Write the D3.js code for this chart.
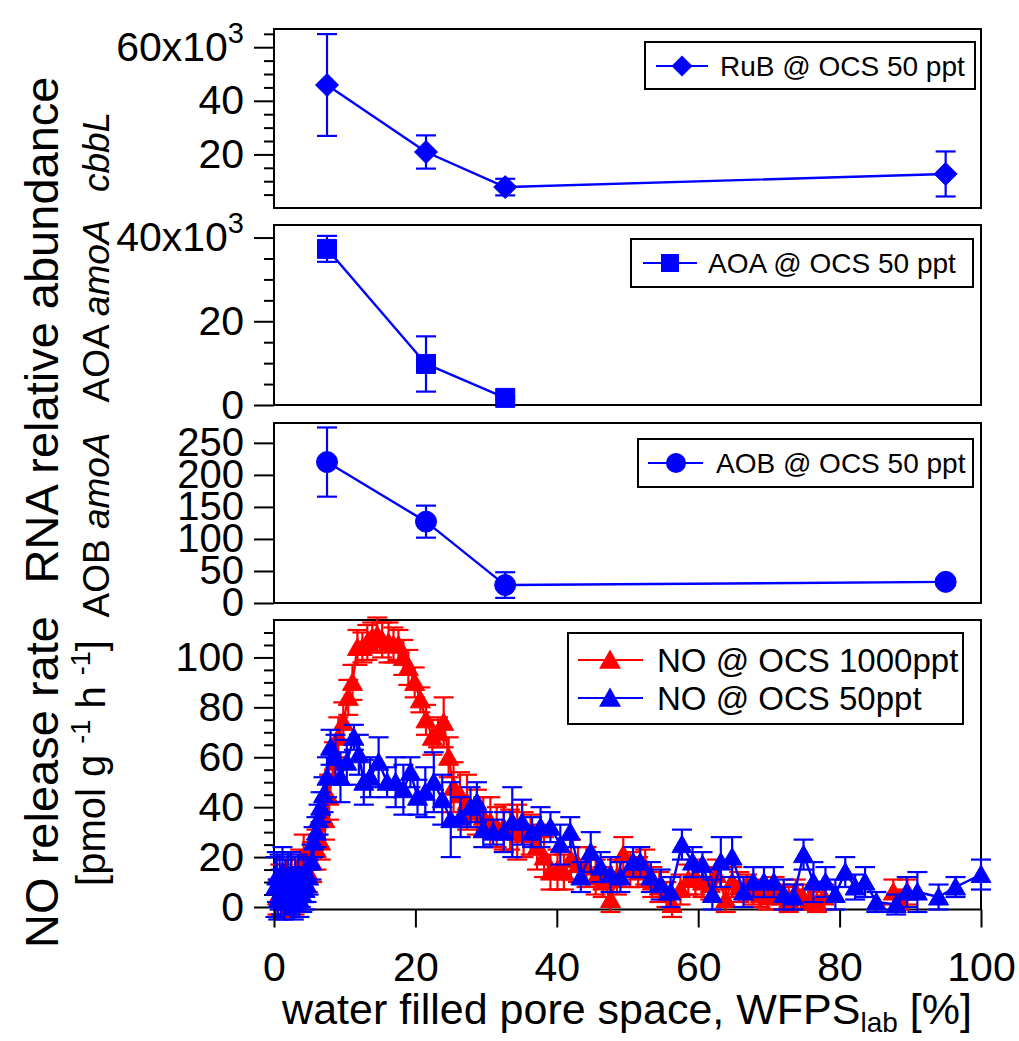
<!DOCTYPE html>
<html>
<head>
<meta charset="utf-8">
<script src="https://cdn.jsdelivr.net/npm/d3@7"></script>
<style>
  html, body { margin: 0; padding: 0; background: #fff; }
  svg { display: block; font-family: "Liberation Sans", Arial, Helvetica, sans-serif; }
</style>
</head>
<body>
<svg id="chart" width="1019" height="1041"></svg>
<script>
// ---------------- data ----------------
const xTickValues = [0, 20, 40, 60, 80, 100];

// cbbL (RuB) relative abundance, in units of 10^3
const rubX   = [7.5, 21.5, 32.7, 95.0];
const rubY   = [45.9, 20.9, 7.8, 12.7];
const rubErr = [19.0, 6.2, 3.1, 8.4];
const rubTicks = [20, 40, 60];

// AOA amoA relative abundance, in units of 10^3
const aoaX   = [7.5, 21.5, 32.7];
const aoaY   = [37.3, 9.8, 1.7];
const aoaErr = [3.1, 6.6, 0.4];
const aoaTicks = [0, 20, 40];

// AOB amoA relative abundance
const aobX   = [7.5, 21.5, 32.7, 95.0];
const aobY   = [220, 127, 28, 33];
const aobErr = [54, 25, 20, 5];
const aobTicks = [0, 50, 100, 150, 200, 250];

// NO release rate, OCS 1000 ppt
const noHighX = [0.5, 0.9, 1.3, 1.7, 2.1, 2.5, 2.9, 3.3, 3.7, 4.2, 4.8, 5.4, 6.0, 6.6, 7.2, 7.8, 8.5, 9.1, 9.8, 10.5,
  11.1, 11.8, 12.5, 13.2, 13.9, 14.6, 15.3, 16.2, 16.9, 17.6, 18.3, 19.0, 19.9, 20.7, 21.5, 22.4, 23.2, 24.0, 24.7, 25.4,
  26.3, 27.3, 28.7, 29.6, 30.6, 31.5, 32.5, 33.4, 34.4, 35.3, 36.3, 37.2, 38.2, 39.1, 40.1, 41.0, 42.0, 43.0, 44.2, 45.5,
  46.5, 47.6, 48.5, 49.4, 50.4, 51.5, 52.5, 53.5, 54.5, 55.5, 56.3, 57.5, 58.6, 59.6, 60.6, 61.7, 62.6, 63.9, 64.8, 65.8,
  66.9, 67.8, 68.8, 69.8, 70.8, 71.8, 72.8, 73.8, 74.8, 75.8, 76.8, 77.8, 87.6, 88.5, 89.6];
const noHighY = [4, 9, 2, 11, 6, 13, 3, 8, 15, 20, 14, 18, 23, 26, 35, 44, 58, 68, 74, 84,
  90, 104, 104, 106, 108, 109, 107, 106, 105, 105, 100, 96, 90, 83, 75, 68, 70, 74, 60, 48,
  45, 42, 38, 36, 34, 32, 32, 31, 30, 29, 29, 24, 20, 14, 15, 14, 19, 17, 16, 12,
  10, 3, 12, 21, 15, 14, 16, 10, 8, 5, 1, 7, 11, 12, 10, 9, 13, 3, 10, 8,
  8, 6, 5, 4, 7, 4, 3, 6, 4, 3, 2, 4, 6, 3, 6];
const noHighErr = [7, 8, 6, 8, 7, 9, 6, 7, 8, 9, 8, 8, 8, 7, 8, 9, 8, 8, 8, 7,
  7, 7, 6, 7, 6, 7, 7, 8, 7, 6, 7, 7, 6, 5, 6, 7, 6, 10, 8, 10,
  9, 11, 9, 8, 10, 8, 9, 8, 11, 9, 8, 9, 8, 7, 8, 7, 8, 7, 8, 7,
  6, 5, 7, 7, 7, 6, 7, 6, 6, 5, 5, 6, 6, 7, 6, 6, 6, 5, 6, 6,
  5, 5, 5, 5, 5, 5, 5, 5, 5, 4, 4, 5, 5, 4, 5];

// NO release rate, OCS 50 ppt
const noLowX = [0.2, 0.4, 0.6, 0.8, 1.0, 1.2, 1.4, 1.6, 1.8, 2.0, 2.2, 2.4, 2.6, 2.8, 3.0, 3.2, 3.4, 3.6, 3.8, 4.0,
  4.2, 4.4, 4.6, 4.9, 5.3, 5.6, 6.0, 6.3,
  6.6, 7.0, 7.5, 8.0, 8.7, 9.4, 10.3, 11.3, 12.0, 12.7, 13.6, 14.8, 16.0, 17.2, 18.3, 19.3, 20.3, 21.4, 22.6, 23.8,
  25.0, 26.4, 27.8, 28.7, 29.6, 31.0, 32.5, 33.7, 35.1, 36.5, 37.7, 39.1, 40.5, 41.9, 43.4, 44.8, 46.2, 47.6, 49.0, 50.8,
  51.8, 53.3, 54.7, 56.1, 57.7, 59.2, 60.6, 62.0, 63.2, 64.8, 66.4, 67.8, 69.3, 70.7, 72.1, 73.5, 74.9, 76.3, 78.0, 79.4,
  80.8, 82.2, 83.6, 85.2, 88.0, 89.5, 91.0, 94.0, 96.4, 100.0];
const noLowY = [8, 12, 3, 10, 6, 14, 2, 9, 5, 11, 4, 13, 7, 1, 10, 6, 12, 3, 8, 5,
  11, 7, 9, 12, 18, 26, 30, 35,
  40, 45, 52, 64, 60, 52, 58, 68, 61, 50, 52, 58, 50, 50, 47, 54, 44, 46, 50, 43,
  35, 36, 40, 42, 31, 30, 30, 34, 34, 30, 32, 32, 25, 30, 12, 22, 16, 13, 12, 18,
  18, 12, 9, 6, 25, 18, 17, 5, 18, 20, 6, 10, 10, 10, 5, 4, 21, 10, 10, 5,
  14, 8, 10, 2, 1, 6, 6, 4, 8, 13];
const noLowErr = [12, 10, 8, 11, 9, 10, 7, 10, 8, 11, 7, 9, 8, 6, 10, 8, 9, 7, 8, 7,
  9, 8, 7, 7, 7, 6, 6, 6,
  6, 7, 8, 7, 9, 10, 9, 5, 8, 9, 8, 10, 6, 10, 10, 6, 7, 10, 12, 10,
  15, 8, 8, 8, 7, 5, 8, 14, 9, 6, 8, 6, 8, 6, 6, 8, 6, 7, 6, 6,
  6, 6, 6, 6, 6, 6, 5, 6, 10, 8, 6, 6, 6, 6, 6, 5, 6, 8, 6, 6,
  6, 5, 6, 4, 4, 6, 8, 5, 4, 6];
const noTicks = [0, 20, 40, 60, 80, 100];

// ---------------- layout ----------------
const BLUE = "#0000ff", RED = "#ff0000";
const X0 = 274, X1 = 981;
const svg = d3.select("#chart");
svg.append("rect").attr("width", 1019).attr("height", 1041).attr("fill", "#fff");

const x = d3.scaleLinear().domain([0, 100]).range([X0, X1]);

const panels = {
  rub: { top: 29,  bottom: 208,   domain: [0, 66.8] },
  aoa: { top: 225, bottom: 405,   domain: [0, 43] },
  aob: { top: 423, bottom: 603,   domain: [0, 281] },
  no:  { top: 620, bottom: 909.5, domain: [-1, 115] }
};
for (const k in panels) {
  const p = panels[k];
  p.y = d3.scaleLinear().domain(p.domain).range([p.bottom, p.top]);
}

// marker shapes
const shapes = {
  diamond: s => `M0,${-s}L${s},0L0,${s}L${-s},0Z`,
  square: s => `M${-s},${-s}H${s}V${s}H${-s}Z`,
  circle: s => `M${-s},0A${s},${s} 0 1,0 ${s},0A${s},${s} 0 1,0 ${-s},0Z`,
  triangle: s => `M0,${-s * 0.95}L${s},${s * 0.8}L${-s},${s * 0.8}Z`
};

function drawFrame(p) {
  svg.append("rect")
    .attr("x", X0).attr("y", p.top)
    .attr("width", X1 - X0).attr("height", p.bottom - p.top)
    .attr("fill", "none").attr("stroke", "#000").attr("stroke-width", 2);
}

function drawYAxis(p, major, minor, fmt, fontSize) {
  const gMinor = svg.append("g").attr("transform", `translate(${X0},0)`)
    .call(d3.axisLeft(p.y).tickValues(minor).tickSize(10).tickFormat(""));
  gMinor.select(".domain").remove();
  gMinor.selectAll("line").attr("stroke", "#000").attr("stroke-width", 2);

  const g = svg.append("g").attr("transform", `translate(${X0},0)`)
    .call(d3.axisLeft(p.y).tickValues(major).tickSize(20).tickPadding(10).tickFormat(fmt));
  g.select(".domain").remove();
  g.selectAll("line").attr("stroke", "#000").attr("stroke-width", 2);
  g.selectAll("text").attr("font-size", fontSize || 41).attr("fill", "#000")
    .attr("font-family", '"Liberation Sans", Arial, sans-serif');
  return g;
}

// adds a "x10^3" multiplier to the top tick label
function addExponent(g, value, base) {
  g.selectAll(".tick").filter(d => d === value).select("text")
    .text(null)
    .call(t => {
      t.append("tspan").text(base + "x10");
      t.append("tspan").attr("font-size", 29).attr("dy", "-0.62em").text("3");
    });
}

// maxGap: break the connecting line where consecutive x values are further apart
function drawSeries(p, xs, ys, errs, color, shape, size, cap, maxGap) {
  const y = p.y;
  const pts = xs.map((xv, i) => ({ x: xv, y: ys[i], e: errs[i] }));
  // error bars
  const eb = svg.append("g").attr("stroke", color).attr("stroke-width", 2.2).attr("fill", "none");
  pts.forEach(d => {
    const yt = y(d.y + d.e), yb = y(d.y - d.e), xc = x(d.x);
    eb.append("line").attr("x1", xc).attr("x2", xc).attr("y1", yt).attr("y2", yb);
    eb.append("line").attr("x1", xc - cap).attr("x2", xc + cap).attr("y1", yt).attr("y2", yt);
    eb.append("line").attr("x1", xc - cap).attr("x2", xc + cap).attr("y1", yb).attr("y2", yb);
  });
  // connecting line
  const segments = [];
  let cur = [];
  pts.forEach((d, i) => {
    if (maxGap && i > 0 && d.x - pts[i - 1].x > maxGap) { segments.push(cur); cur = []; }
    cur.push(d);
  });
  segments.push(cur);
  const line = d3.line().x(d => x(d.x)).y(d => y(d.y));
  segments.forEach(seg => {
    svg.append("path").attr("d", line(seg)).attr("fill", "none")
      .attr("stroke", color).attr("stroke-width", 2.4).attr("stroke-linejoin", "round");
  });
  // markers
  svg.append("g").selectAll("path").data(pts).join("path")
    .attr("transform", d => `translate(${x(d.x)},${y(d.y)})`)
    .attr("d", shapes[shape](size)).attr("fill", color).attr("stroke", color).attr("stroke-width", 1);
}

function drawLegend(box, rows, fontSize) {
  const g = svg.append("g");
  g.append("rect").attr("x", box.x).attr("y", box.y).attr("width", box.w).attr("height", box.h)
    .attr("fill", "#fff").attr("stroke", "#000").attr("stroke-width", 2);
  rows.forEach(r => {
    g.append("line").attr("x1", r.x0).attr("x2", r.x1).attr("y1", r.y).attr("y2", r.y)
      .attr("stroke", r.color).attr("stroke-width", 2.2);
    g.append("path").attr("transform", `translate(${r.xm},${r.y})`)
      .attr("d", shapes[r.shape](r.size)).attr("fill", r.color);
    g.append("text").attr("x", r.xt).attr("y", r.y).attr("dy", "0.36em")
      .attr("font-size", fontSize).attr("fill", "#000").text(r.label);
  });
}

// ---------------- panel 1: cbbL ----------------
drawFrame(panels.rub);
const gRub = drawYAxis(panels.rub, rubTicks, [5, 10, 15, 25, 30, 35, 45, 50, 55, 65], d => String(d));
addExponent(gRub, 60, "60");
drawSeries(panels.rub, rubX, rubY, rubErr, BLUE, "diamond", 11.5, 10);
drawLegend({ x: 645, y: 42, w: 330, h: 47 },
  [{ label: "RuB @ OCS 50 ppt", color: BLUE, shape: "diamond", size: 10.5, y: 66, x0: 656, x1: 708, xm: 682, xt: 720 }], 28);

// ---------------- panel 2: AOA amoA ----------------
drawFrame(panels.aoa);
const gAoa = drawYAxis(panels.aoa, aoaTicks, [5, 10, 15, 25, 30, 35], d => String(d));
addExponent(gAoa, 40, "40");
drawSeries(panels.aoa, aoaX, aoaY, aoaErr, BLUE, "square", 9.5, 10);
drawLegend({ x: 631, y: 239, w: 342, h: 48 },
  [{ label: "AOA @ OCS 50 ppt", color: BLUE, shape: "square", size: 9, y: 263, x0: 643, x1: 697, xm: 670, xt: 708 }], 28);

// ---------------- panel 3: AOB amoA ----------------
drawFrame(panels.aob);
drawYAxis(panels.aob, aobTicks, [], d => String(d), 40);
drawSeries(panels.aob, aobX, aobY, aobErr, BLUE, "circle", 10.5, 10);
drawLegend({ x: 638, y: 439, w: 335, h: 48 },
  [{ label: "AOB @ OCS 50 ppt", color: BLUE, shape: "circle", size: 10, y: 463, x0: 648, x1: 703, xm: 676, xt: 716 }], 28);

// ---------------- panel 4: NO release ----------------
drawFrame(panels.no);
drawYAxis(panels.no, noTicks, d3.range(5, 115, 5).filter(v => v % 20 !== 0), d => String(d));
drawSeries(panels.no, noHighX, noHighY, noHighErr, RED, "triangle", 10, 10, 6);
drawSeries(panels.no, noLowX, noLowY, noLowErr, BLUE, "triangle", 10, 10, 6);
drawLegend({ x: 568, y: 633, w: 395, h: 91 }, [
  { label: "NO @ OCS 1000ppt", color: RED, shape: "triangle", size: 11, y: 660, x0: 578, x1: 643, xm: 610, xt: 657 },
  { label: "NO @ OCS 50ppt", color: BLUE, shape: "triangle", size: 11, y: 698, x0: 578, x1: 643, xm: 610, xt: 657 }
], 33);

// bottom axis
const gx = svg.append("g").attr("transform", `translate(0,${panels.no.bottom})`)
  .call(d3.axisBottom(x).tickValues(xTickValues).tickSize(18).tickPadding(24).tickFormat(d => String(d)));
gx.select(".domain").remove();
gx.selectAll("line").attr("stroke", "#000").attr("stroke-width", 2);
gx.selectAll("text").attr("font-size", 41).attr("fill", "#000")
  .attr("font-family", '"Liberation Sans", Arial, sans-serif');

// ---------------- axis titles ----------------
const xt = svg.append("text").attr("x", 627).attr("y", 1024).attr("text-anchor", "middle")
  .attr("font-size", 43).attr("fill", "#000");
xt.append("tspan").text("water filled pore space, WFPS");
xt.append("tspan").attr("font-size", 28).attr("dy", 8).text("lab");
xt.append("tspan").attr("dy", -8).text(" [%]");

function vTitle(cx, cy, size) {
  return svg.append("text").attr("transform", `translate(${cx},${cy}) rotate(-90)`)
    .attr("text-anchor", "middle").attr("font-size", size).attr("fill", "#000");
}
vTitle(58, 330, 47).text("RNA relative abundance");
vTitle(58, 782, 47).text("NO release rate");
vTitle(109, 152, 37).attr("font-style", "italic").text("cbbL");
const tAoa = vTitle(109, 311, 37);
tAoa.append("tspan").text("AOA ");
tAoa.append("tspan").attr("font-style", "italic").text("amoA");
const tAob = vTitle(109, 525, 37);
tAob.append("tspan").text("AOB ");
tAob.append("tspan").attr("font-style", "italic").text("amoA");
const tUnit = vTitle(105, 763, 40);
tUnit.append("tspan").text("[pmol g ");
tUnit.append("tspan").attr("font-size", 27).attr("dy", -15).text("-1");
tUnit.append("tspan").attr("dy", 15).text(" h ");
tUnit.append("tspan").attr("font-size", 27).attr("dy", -15).text("-1");
tUnit.append("tspan").attr("dy", 15).text("]");
</script>
</body>
</html>
